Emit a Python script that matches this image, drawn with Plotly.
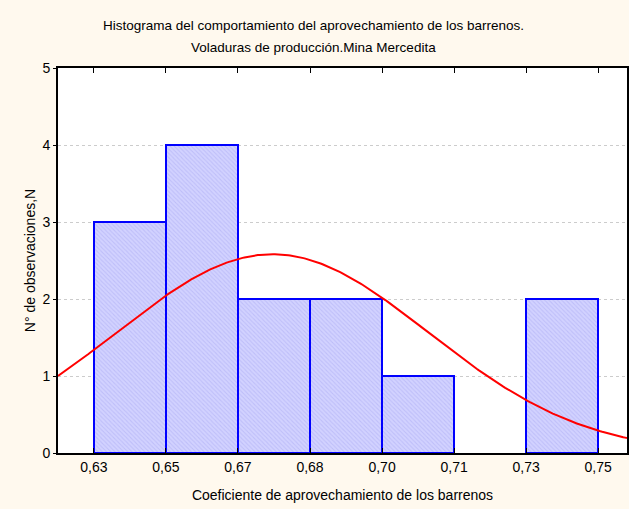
import numpy as np
import plotly.graph_objects as go

# Histogram data
bin_edges = [0.6320, 0.6485, 0.6650, 0.6815, 0.6980, 0.7145, 0.7310, 0.7475]
counts = [3, 4, 2, 2, 1, 0, 2]
tick_labels = ["0,63", "0,65", "0,67", "0,68", "0,70", "0,71", "0,73", "0,75"]
y_ticks = [0, 1, 2, 3, 4, 5]

# Fitted normal curve parameters
fit_mean = 0.6729
fit_sd = 0.0357

bin_width = bin_edges[1] - bin_edges[0]
centers = [(a + b) / 2 for a, b in zip(bin_edges[:-1], bin_edges[1:])]
n_obs = sum(counts)

x_lo = bin_edges[0] - 0.498 * bin_width
x_hi = bin_edges[0] + 7.40 * bin_width
xc = np.linspace(x_lo, x_hi, 300)
yc = n_obs * bin_width * np.exp(-0.5 * ((xc - fit_mean) / fit_sd) ** 2) / (fit_sd * np.sqrt(2 * np.pi))

FONT = "Liberation Sans, Arial, sans-serif"

fig = go.Figure()
fig.add_trace(go.Bar(
    x=centers, y=counts, width=bin_width,
    marker=dict(
        color="#C8C8FC",
        line=dict(color="#0000FF", width=[2 if c > 0 else 0 for c in counts]),
        pattern=dict(shape="\\", bgcolor="#D2D2FF", fgcolor="#ABABF2", size=3, solidity=0.35),
    ),
    showlegend=False,
))
fig.add_trace(go.Scatter(
    x=xc, y=yc, mode="lines",
    line=dict(color="#FF0000", width=2),
    showlegend=False, cliponaxis=True,
))

fig.update_layout(
    width=629, height=509,
    margin=dict(l=58, r=0, t=68, b=56),
    paper_bgcolor="#FFF9EE",
    plot_bgcolor="#FFFFFF",
    font=dict(family=FONT, size=13, color="#000000"),
    bargap=0,
    annotations=[
        dict(text="Histograma del comportamiento del aprovechamiento de los barrenos.",
             xref="paper", yref="paper", x=(314 - 58) / 571, y=(453 - 26) / 385,
             xanchor="center", yanchor="middle", showarrow=False,
             font=dict(family=FONT, size=13.5)),
        dict(text="Voladuras de producción.Mina Mercedita",
             xref="paper", yref="paper", x=(314 - 58) / 571, y=(453 - 47) / 385,
             xanchor="center", yanchor="middle", showarrow=False,
             font=dict(family=FONT, size=13.5)),
    ],
)
fig.update_xaxes(
    range=[x_lo, x_hi],
    tickvals=bin_edges, ticktext=tick_labels,
    ticks="inside", ticklen=5, tickcolor="#000000", tickwidth=1,
    showline=True, linecolor="#000000", linewidth=2, mirror="ticks",
    showgrid=False, zeroline=False,
    title=dict(text="Coeficiente de aprovechamiento de los barrenos", standoff=16,
               font=dict(size=14)),
    tickfont=dict(size=14),
)
fig.update_yaxes(
    range=[0, 5],
    tickvals=y_ticks,
    ticks="outside", ticklen=3, tickcolor="#000000", tickwidth=1,
    showline=True, linecolor="#000000", linewidth=2, mirror=True,
    showgrid=True, gridcolor="#CCCCCC", griddash="dot", gridwidth=1,
    zeroline=False,
    title=dict(text="N° de observaciones,N", standoff=4, font=dict(size=14)),
    tickfont=dict(size=14),
)

fig.write_html("out.html", config={"displayModeBar": False})

# remove default page margin so the figure sits at the window origin
with open("out.html", "r", encoding="utf-8") as f:
    html = f.read()
html = html.replace("<body>", '<body style="margin:0;padding:0;">', 1)
with open("out.html", "w", encoding="utf-8") as f:
    f.write(html)
